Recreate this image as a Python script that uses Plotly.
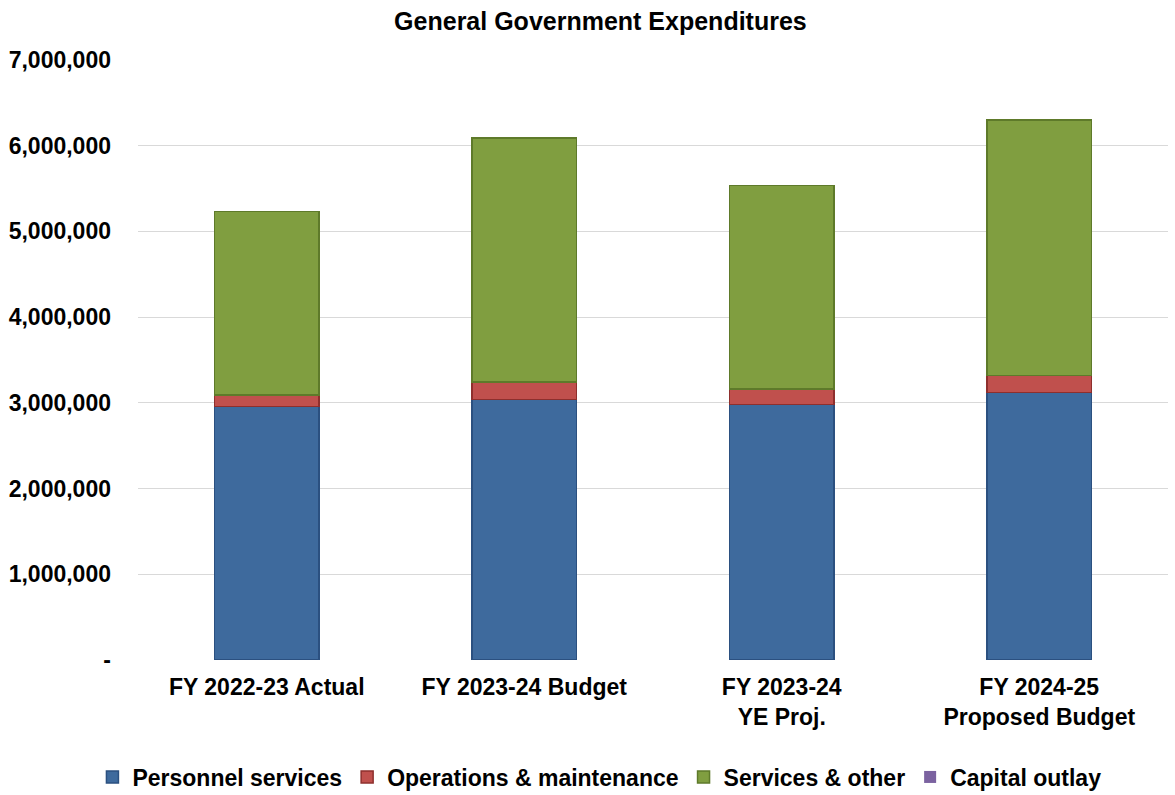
import plotly.graph_objects as go

categories = ["FY 2022-23 Actual", "FY 2023-24 Budget", "FY 2023-24<br>YE Proj.", "FY 2024-25<br>Proposed Budget"]
personnel_services = [2960000, 3040000, 2980000, 3120000]
operations_maintenance = [130000, 205000, 183000, 200000]
services_other = [2140000, 2845000, 2372000, 2980000]
capital_outlay = [0, 0, 0, 0]

y_tickvals = [0, 1000000, 2000000, 3000000, 4000000, 5000000, 6000000, 7000000]
y_ticktext = ["-", "1,000,000", "2,000,000", "3,000,000", "4,000,000", "5,000,000", "6,000,000", "7,000,000"]

series = [
    ("Personnel services", personnel_services, "#3E6A9D", "#2B5080", 1.5),
    ("Operations & maintenance", operations_maintenance, "#C0504D", "#8E2F2D", 1.5),
    ("Services & other", services_other, "#809E40", "#5E7A2A", 1.5),
    ("Capital outlay", capital_outlay, "#7B62A0", "#5A4580", 0),
]

font_family = "Arial, 'Liberation Sans', sans-serif"
fs = 23

fig = go.Figure()
for name, vals, color, edge, lw in series:
    fig.add_trace(go.Bar(
        x=categories, y=vals, name=f"<b>{name}</b>",
        marker=dict(color=color, line=dict(color=edge, width=lw)),
        width=0.405,
    ))

fig.update_layout(
    barmode="stack",
    width=1175, height=795,
    margin=dict(l=138, r=7, t=60, b=135, autoexpand=False),
    paper_bgcolor="white", plot_bgcolor="white",
    font=dict(family=font_family, color="black", size=fs),
    title=dict(text="<b>General Government Expenditures</b>", x=0.511, xanchor="center",
               y=0.973, yanchor="middle", font=dict(size=25, family=font_family, color="black")),
    legend=dict(orientation="h", x=0.448, xanchor="center", y=-0.195, yanchor="middle",
                font=dict(size=fs, family=font_family, color="black"),
                itemwidth=30, traceorder="normal"),
)
fig.update_yaxes(range=[0, 7000000], tickvals=y_tickvals,
                 ticktext=[f"<b>{t}</b>" for t in y_ticktext],
                 showgrid=True, gridcolor="#D9D9D9", gridwidth=1, zeroline=False,
                 showline=False, ticks="", ticklabelstandoff=26, automargin=False,
                 tickfont=dict(size=fs, family=font_family, color="black"))
fig.update_xaxes(showgrid=False, showline=False, ticks="", automargin=False,
                 tickprefix="<b>", ticksuffix="</b>", ticklabelstandoff=11,
                 tickfont=dict(size=fs, family=font_family, color="black"))

fig.write_html("out.html")
